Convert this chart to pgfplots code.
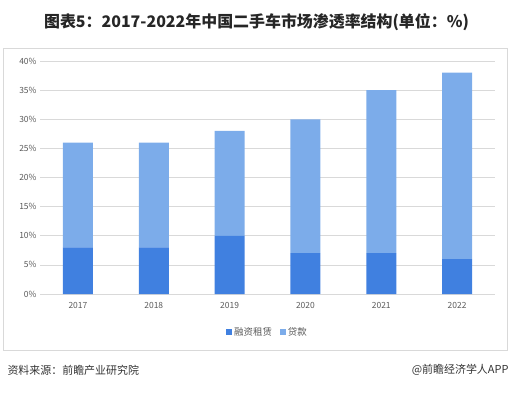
\documentclass[border=0pt]{standalone}
\usepackage{pgfplots}
\pgfplotsset{compat=1.18}
\usepackage{fontspec}
\setmainfont{Noto Sans CJK SC}
\definecolor{darkb}{RGB}{64,128,224}
\definecolor{lightb}{RGB}{124,172,234}
\definecolor{txtg}{RGB}{89,89,89}
\definecolor{gridg}{RGB}{217,217,217}
\begin{document}
\begin{tikzpicture}[x=1bp,y=1bp]
\path[use as bounding box] (0,0) rectangle (513,394);
\draw[gridg, line width=0.8bp] (3,44) rectangle (507,346);
\node[font=\bfseries\fontsize{16}{18}\selectfont, text=black!85] at (256.5,372) {图表5：2017-2022年中国二手车市场渗透率结构(单位：\%)};
\node[anchor=west, font=\fontsize{11}{13}\selectfont, text=black!80] at (4,24) {资料来源：前瞻产业研究院};
\node[anchor=east, font=\fontsize{11}{13}\selectfont, text=black!80] at (512,24) {@前瞻经济学人APP};
\begin{axis}[
  at={(40bp,100bp)}, anchor=south west,
  scale only axis, width=455bp, height=233bp,
  ybar stacked, bar width=30bp,
  xmin=-0.5, xmax=5.5, ymin=0, ymax=40,
  xtick=data, xticklabels={2017,2018,2019,2020,2021,2022},
  ytick={0,5,...,40},
  yticklabel={\pgfmathprintnumber{\tick}\%},
  /pgf/number format/assume math mode=true,
  axis line style={draw=none},
  major tick length=0pt,
  ymajorgrids, grid style={gridg, line width=0.6bp},
  tick label style={font=\fontsize{8.5}{10}\selectfont, text=txtg},
  xticklabel style={yshift=-5bp},
  legend style={at={(0.5,-0.125)}, anchor=north, draw=none, legend columns=-1,
    font=\fontsize{9.5}{11}\selectfont, text=txtg,
    /tikz/every even column/.append style={column sep=6bp}},
  legend image code/.code={\fill[#1] (0bp,-3bp) rectangle (6bp,3bp);},
]
\addplot[fill=darkb, draw=none] coordinates {(0,8) (1,8) (2,10) (3,7) (4,7) (5,6)};
\addplot[fill=lightb, draw=none] coordinates {(0,18) (1,18) (2,18) (3,23) (4,28) (5,32)};
\legend{融资租赁,贷款}
\end{axis}
\end{tikzpicture}
\end{document}
